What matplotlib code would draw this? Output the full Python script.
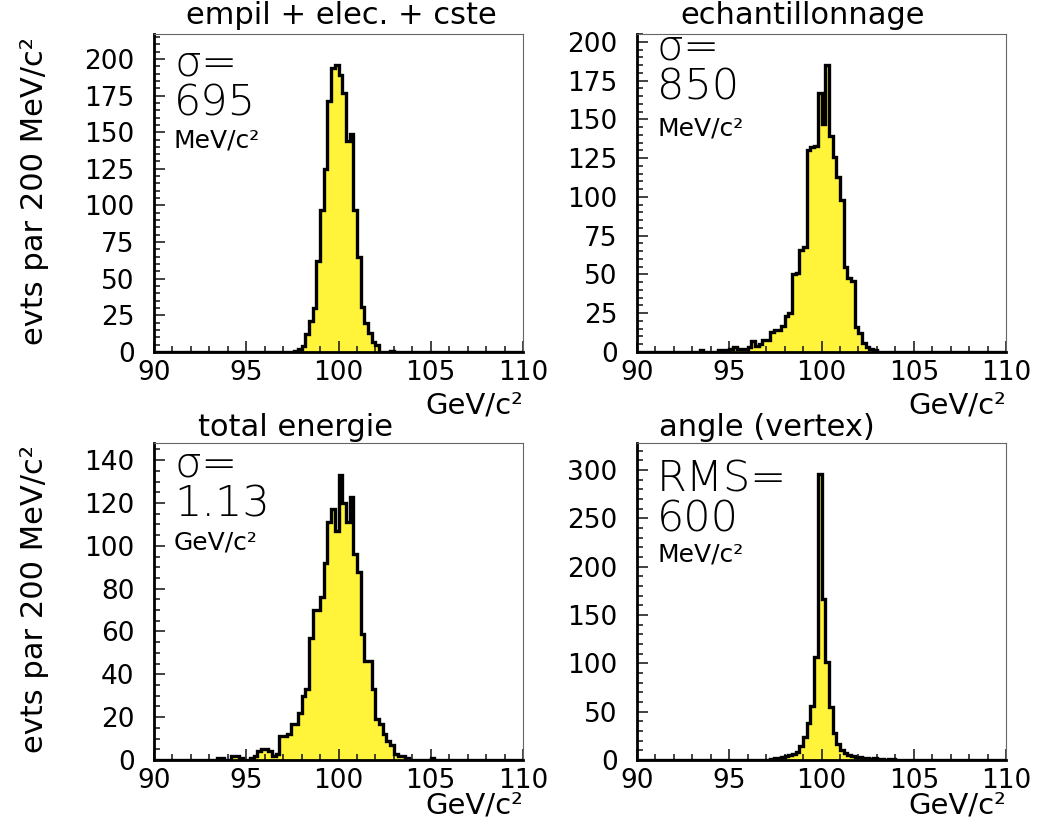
import numpy as np
import matplotlib
matplotlib.use("Agg")
import matplotlib.pyplot as plt
from matplotlib.ticker import MultipleLocator

# binning: 200 MeV bins from 90 to 110 GeV
x_min, x_max, bin_w = 90.0, 110.0, 0.2

# counts per bin, starting at the given lower edge (GeV)
empil_start = 97.6
empil_counts = [1, 2, 4, 12, 21, 30, 62, 97, 125, 171, 194, 196, 189, 177,
                144, 149, 97, 65, 31, 20, 13, 7, 5, 0, 0, 0, 1]

echant_start = 93.4
echant_counts = [1, 0, 0, 0, 0, 1, 1, 0, 2, 3, 2, 2, 2, 3, 7, 4, 5, 8, 8,
                 13, 14, 14, 17, 23, 25, 50, 51, 66, 68, 130, 132, 133, 167,
                 147, 185, 139, 126, 113, 98, 55, 48, 46, 16, 12, 6, 3, 2, 1]

total_start = 93.4
total_counts = [1, 1, 0, 0, 2, 2, 1, 0, 0, 1, 2, 4, 5, 5, 4, 2, 3, 11, 11,
                12, 17, 17, 22, 30, 33, 57, 70, 70, 76, 92, 111, 117, 107,
                133, 120, 111, 123, 96, 88, 59, 46, 46, 33, 19, 17, 12, 9, 7,
                3, 2, 2, 1, 0, 0, 0, 0, 0, 0, 1]

angle_start = 97.2
angle_counts = [1, 2, 2, 3, 4, 5, 6, 8, 14, 24, 38, 56, 107, 296, 167, 101,
                55, 28, 17, 10, 7, 5, 4, 3, 3, 2, 2, 1, 2, 1, 1, 0, 1, 1]

titles = ["empil + elec. + cste", "echantillonnage", "total energie", "angle (vertex)"]
stat_names = ["\u03c3=", "\u03c3=", "\u03c3=", "RMS="]
stat_values = ["695", "850", "1.13", "600"]
stat_units = ["MeV/c\u00b2", "MeV/c\u00b2", "GeV/c\u00b2", "MeV/c\u00b2"]
y_tops = [217, 205, 148, 328]
y_major = [25, 25, 20, 50]
y_minor = [5, 5, 5, 10]

xlabel = "GeV/c\u00b2"
ylabel = "evts par 200 MeV/c\u00b2"

W, H = 1039, 835
YELLOW = "#fff43a"


def fx(px):
    return px / W


def fy(py):
    return 1 - py / H


def full_hist(start, counts):
    edges = np.round(np.arange(x_min, x_max + bin_w / 2, bin_w), 3)
    vals = np.zeros(len(edges) - 1)
    i0 = int(round((start - x_min) / bin_w))
    vals[i0:i0 + len(counts)] = counts
    return edges, vals


plt.rcParams['font.family'] = ['DejaVu Sans']
fig = plt.figure(figsize=(W / 100, H / 100), dpi=100)

# axes boxes in pixels: left, top, right, bottom
boxes = [(154, 34, 523, 352), (637, 34, 1006, 352),
         (154, 443, 523, 760), (637, 443, 1006, 760)]
data = [(empil_start, empil_counts), (echant_start, echant_counts),
        (total_start, total_counts), (angle_start, angle_counts)]
title_pos = [(341, 15), (803, 15), (295, 427), (767, 427)]
# pixel rows of the stat block: (name/value block centre, unit centre)
stat_rows = [(83, 140), (67, 129), (484, 542), (499, 555)]

for i, ((l, t, r, b), (start, counts)) in enumerate(zip(boxes, data)):
    ax = fig.add_axes([fx(l), fy(b), (r - l) / W, (b - t) / H])
    edges, vals = full_hist(start, counts)
    ax.stairs(vals, edges, fill=True, color=YELLOW, zorder=1)
    ax.stairs(vals, edges, color="black", lw=2.4, zorder=2)

    ax.set_xlim(x_min, x_max)
    ax.set_ylim(0, y_tops[i])
    ax.xaxis.set_major_locator(MultipleLocator(5))
    ax.xaxis.set_minor_locator(MultipleLocator(1))
    ax.yaxis.set_major_locator(MultipleLocator(y_major[i]))
    ax.yaxis.set_minor_locator(MultipleLocator(y_minor[i]))
    ax.tick_params(which="both", direction="in", top=False, right=False,
                   width=1.2, color="#222222", labelsize=19)
    ax.tick_params(which="major", length=8)
    ax.tick_params(which="minor", length=4.5)
    ax.tick_params(axis="x", pad=6)
    ax.tick_params(axis="y", pad=14)
    for side in ["top", "right"]:
        ax.spines[side].set_linewidth(0.8)
        ax.spines[side].set_color("#666666")
    for side in ["left", "bottom"]:
        ax.spines[side].set_linewidth(2.0)
        ax.spines[side].set_color("black")

    fig.text(fx(title_pos[i][0]), fy(title_pos[i][1]), titles[i],
             ha="center", va="center", fontsize=22)

    # stat box text in the upper left corner
    fig.text(fx(l + 20), fy(stat_rows[i][0]),
             stat_names[i] + "\n" + stat_values[i], ha="left", va="center",
             fontsize=31, fontweight="light", linespacing=0.98)
    fig.text(fx(l + 20), fy(stat_rows[i][1]), stat_units[i], ha="left",
             va="center", fontsize=18)

    # axis title at bottom right
    fig.text(fx(r), fy(b + 54 if i < 2 else b + 45), xlabel,
             ha="right", va="center", fontsize=21)

    if i % 2 == 0:
        fig.text(fx(35), fy((t + b) / 2 - 2), ylabel, rotation=90,
                 ha="center", va="center", fontsize=22)

fig.savefig("out.png", dpi=100)
